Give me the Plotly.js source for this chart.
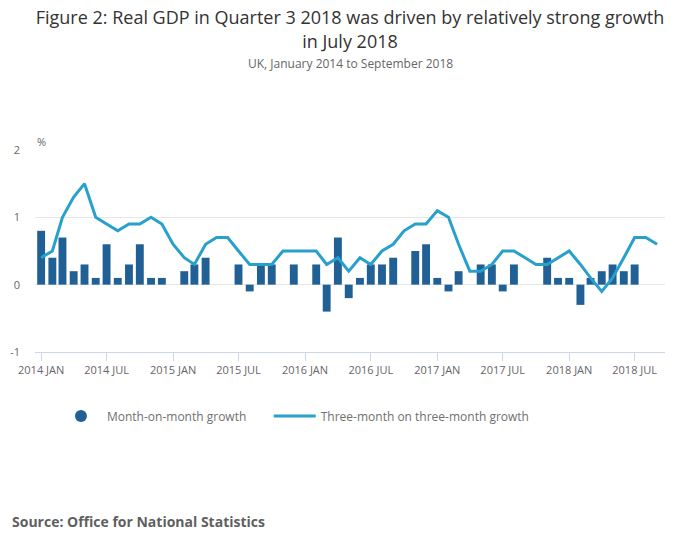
<!DOCTYPE html>
<html>
<head>
<meta charset="utf-8">
<script src="https://cdn.plot.ly/plotly-3.0.1.min.js"></script>
<style>
  html, body { margin: 0; padding: 0; background: #fff; }
  #plot { width: 700px; height: 549px; }
</style>
</head>
<body>
<div id="plot"></div>
<script>
// monthly dates, Jan 2014 to Sep 2018
const months = [];
for (let y = 2014; y <= 2018; y++) {
  for (let m = 1; m <= 12; m++) {
    if (y === 2018 && m > 9) break;
    months.push(y + '-' + String(m).padStart(2, '0') + '-01');
  }
}

// month-on-month growth, %
const monthOnMonth = [
  0.8, 0.4, 0.7, 0.2, 0.3, 0.1, 0.6, 0.1, 0.3, 0.6, 0.1, 0.1,   // 2014
  0.0, 0.2, 0.3, 0.4, 0.0, 0.0, 0.3, -0.1, 0.3, 0.3, 0.0, 0.3,  // 2015
  0.0, 0.3, -0.4, 0.7, -0.2, 0.1, 0.3, 0.3, 0.4, 0.0, 0.5, 0.6, // 2016
  0.1, -0.1, 0.2, 0.0, 0.3, 0.3, -0.1, 0.3, 0.0, 0.0, 0.4, 0.1, // 2017
  0.1, -0.3, 0.1, 0.2, 0.3, 0.2, 0.3, 0.0, 0.0                  // 2018
];

// three-month on three-month growth, %
const threeOnThree = [
  0.4, 0.5, 1.0, 1.3, 1.5, 1.0, 0.9, 0.8, 0.9, 0.9, 1.0, 0.9,   // 2014
  0.6, 0.4, 0.3, 0.6, 0.7, 0.7, 0.5, 0.3, 0.3, 0.3, 0.5, 0.5,   // 2015
  0.5, 0.5, 0.3, 0.4, 0.2, 0.4, 0.3, 0.5, 0.6, 0.8, 0.9, 0.9,   // 2016
  1.1, 1.0, 0.6, 0.2, 0.2, 0.3, 0.5, 0.5, 0.4, 0.3, 0.3, 0.4,   // 2017
  0.5, 0.3, 0.1, -0.1, 0.1, 0.4, 0.7, 0.7, 0.6                  // 2018
];

const tickVals = ['2014-01-01', '2014-07-01', '2015-01-01', '2015-07-01', '2016-01-01',
  '2016-07-01', '2017-01-01', '2017-07-01', '2018-01-01', '2018-07-01'];
const tickLabels = ['2014 JAN', '2014 JUL', '2015 JAN', '2015 JUL', '2016 JAN',
  '2016 JUL', '2017 JAN', '2017 JUL', '2018 JAN', '2018 JUL'];
const yTickVals = [-1, 0, 1, 2];
const yTickLabels = ['-1', '0', '1', '2'];

const darkBlue = '#206095';
const lightBlue = '#27a0cc';
const font = 'Open Sans, sans-serif';

const traces = [
  {
    x: months,
    y: monthOnMonth,
    type: 'bar',
    name: 'Month-on-month growth',
    marker: { color: darkBlue },
    showlegend: false,
    hovertemplate: '%{y}<extra></extra>'
  },
  {
    // legend entry only, drawn as a round marker like the original
    x: [null],
    y: [null],
    type: 'scatter',
    mode: 'markers',
    name: 'Month-on-month growth',
    marker: { color: darkBlue, size: 12, symbol: 'circle' },
    legend: 'legend',
    hoverinfo: 'skip'
  },
  {
    x: months,
    y: threeOnThree,
    type: 'scatter',
    mode: 'lines',
    name: 'Three-month on three-month growth',
    line: { color: lightBlue, width: 3 },
    legend: 'legend2',
    hovertemplate: '%{y}<extra></extra>'
  }
];

const legendFont = { family: font, size: 12, color: '#707070' };

const layout = {
  width: 700,
  height: 549,
  margin: { l: 35, r: 35, t: 150, b: 197 },
  paper_bgcolor: '#fff',
  plot_bgcolor: '#fff',
  font: { family: font, color: '#666', size: 11 },
  bargap: 0.22,
  title: {
    text: 'Figure 2: Real GDP in Quarter 3 2018 was driven by relatively strong growth<br>in July 2018',
    font: { family: font, size: 18, color: '#333' },
    x: 0.5,
    xanchor: 'center',
    yref: 'container',
    y: 0.956,
    yanchor: 'top'
  },
  xaxis: {
    type: 'date',
    range: ['2013-12-15', '2018-09-23'],
    tickvals: tickVals,
    ticktext: tickLabels,
    tickfont: { size: 11, color: '#666' },
    showgrid: false,
    zeroline: false,
    showline: true,
    linecolor: '#ccd6eb',
    linewidth: 1,
    ticks: 'outside',
    ticklen: 8,
    tickcolor: '#ccd6eb',
    fixedrange: true
  },
  yaxis: {
    range: [-1, 2],
    tickvals: yTickVals,
    ticktext: yTickLabels,
    tickfont: { size: 11, color: '#666' },
    showgrid: true,
    gridcolor: '#e6e6e6',
    zeroline: false,
    showline: false,
    ticklabelstandoff: 14,
    fixedrange: true
  },
  legend: {
    orientation: 'h',
    x: 0.0317,
    xanchor: 'left',
    y: -0.245,
    yanchor: 'top',
    itemwidth: 42,
    font: legendFont
  },
  legend2: {
    orientation: 'h',
    x: 0.371,
    xanchor: 'left',
    y: -0.245,
    yanchor: 'top',
    itemwidth: 42,
    font: legendFont
  },
  annotations: [
    {
      text: 'UK, January 2014 to September 2018',
      xref: 'paper', yref: 'paper',
      x: 0.5, y: 1.426,
      xanchor: 'center', yanchor: 'middle',
      showarrow: false,
      font: { family: font, size: 12, color: '#666' }
    },
    {
      text: '%',
      xref: 'paper', yref: 'paper',
      x: 0, y: 1.04,
      xanchor: 'left', yanchor: 'middle',
      showarrow: false,
      font: { family: font, size: 11, color: '#666' }
    },
    {
      text: '<b>Source: Office for National Statistics</b>',
      xref: 'paper', yref: 'paper',
      x: -0.0397, y: -0.837,
      xanchor: 'left', yanchor: 'middle',
      showarrow: false,
      font: { family: font, size: 14, color: '#5f5f5f' }
    }
  ]
};

Plotly.newPlot('plot', traces, layout, { displayModeBar: false });
</script>
</body>
</html>
